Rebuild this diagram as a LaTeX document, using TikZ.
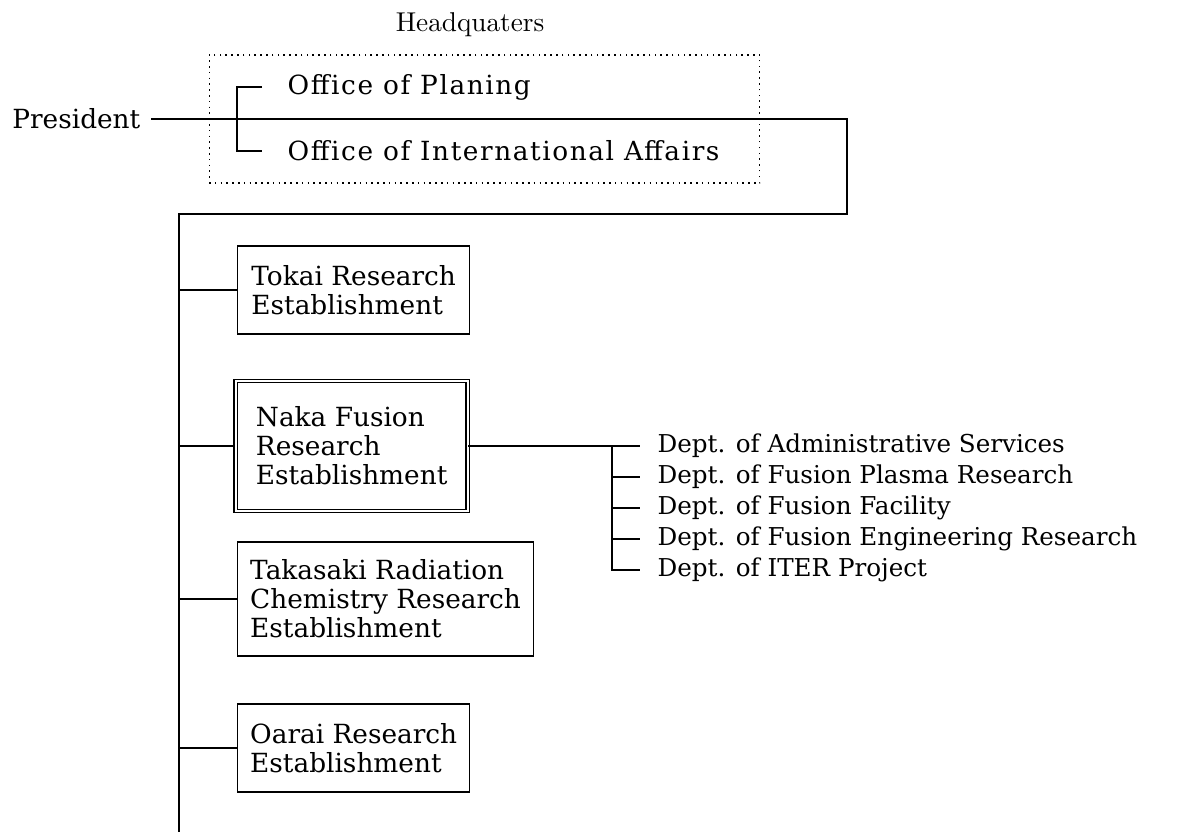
\documentclass[tikz,border=0pt]{standalone}
\usepackage{fontspec}
\setmainfont{DejaVu Serif}
\newfontfamily\hqfont{lmroman10-regular.otf}
\newfontfamily\officefont{DejaVu Serif}[LetterSpace=6]
\usepackage{tikz}
\usetikzlibrary{positioning,calc}

\begin{document}
\begin{tikzpicture}[
    x=0.02cm, y=-0.02cm,
    line width=0.8pt,
    every node/.style={font=\fontsize{15}{16.5}\selectfont, inner sep=0pt},
    unit/.style={draw, align=left, anchor=west, inner xsep=0.25cm,
                 minimum width=4.64cm, minimum height=#1},
    hqbox/.style={draw, line width=0.6pt, dash pattern=on 0.9pt off 2.4pt,
                  minimum width=11.02cm, minimum height=2.56cm},
    office/.style={anchor=west, inner xsep=0.5cm, font=\fontsize{15}{16.5}\officefont},
    dept/.style={anchor=west, inner xsep=0.34cm, font=\fontsize{14}{15}\selectfont}
]
  \useasboundingbox (0,0) rectangle (1193,832);

  % headquarters
  \node[font=\fontsize{15.5}{16}\hqfont] (hqname) at (470,25) {Headquaters};
  \node[hqbox] (hq) at (484.5,119) {};
  \node[office] (plan) at (262,87)  {Office of Planing};
  \node[office] (intl) at (262,151) {Office of International Affairs};
  \node[anchor=east, inner xsep=0.2cm] (pres) at (151,119) {President};

  % establishments
  \node[unit=1.76cm] (tokai) at (237,290) {Tokai Research\\Establishment};
  \node[unit=2.6cm, double, double distance=1.1pt] (naka) at (235,446)
       {Naka Fusion\\Research\\Establishment};
  \node[unit=2.28cm] (taka) at (237,599)
       {Takasaki Radiation\\Chemistry Research\\Establishment};
  \node[unit=1.76cm] (oarai) at (237,748) {Oarai Research\\Establishment};

  % departments of Naka
  \node[dept] (d1) at (640,446) {Dept. of Administrative Services};
  \node[dept] (d2) at (640,477) {Dept. of Fusion Plasma Research};
  \node[dept] (d3) at (640,508) {Dept. of Fusion Facility};
  \node[dept] (d4) at (640,539) {Dept. of Fusion Engineering Research};
  \node[dept] (d5) at (640,570) {Dept. of ITER Project};

  \coordinate (turn) at (847,119);
  \coordinate (top)  at (179,214);
  \coordinate (bot)  at (179,832);
  \coordinate (fork) at (612,446);

  % edges
  \draw (plan.west) -- ++(-25,0) |- (intl.west);
  \draw (pres.east) -- (turn) |- (top) -- (bot);
  \foreach \u in {tokai,naka,taka,oarai}
    \draw (top |- \u.west) -- (\u.west);
  \draw (naka.east) -- (d1.west);
  \draw (fork) |- (d5.west);
  \foreach \d in {d2,d3,d4}
    \draw (fork |- \d.west) -- (\d.west);
\end{tikzpicture}
\end{document}
